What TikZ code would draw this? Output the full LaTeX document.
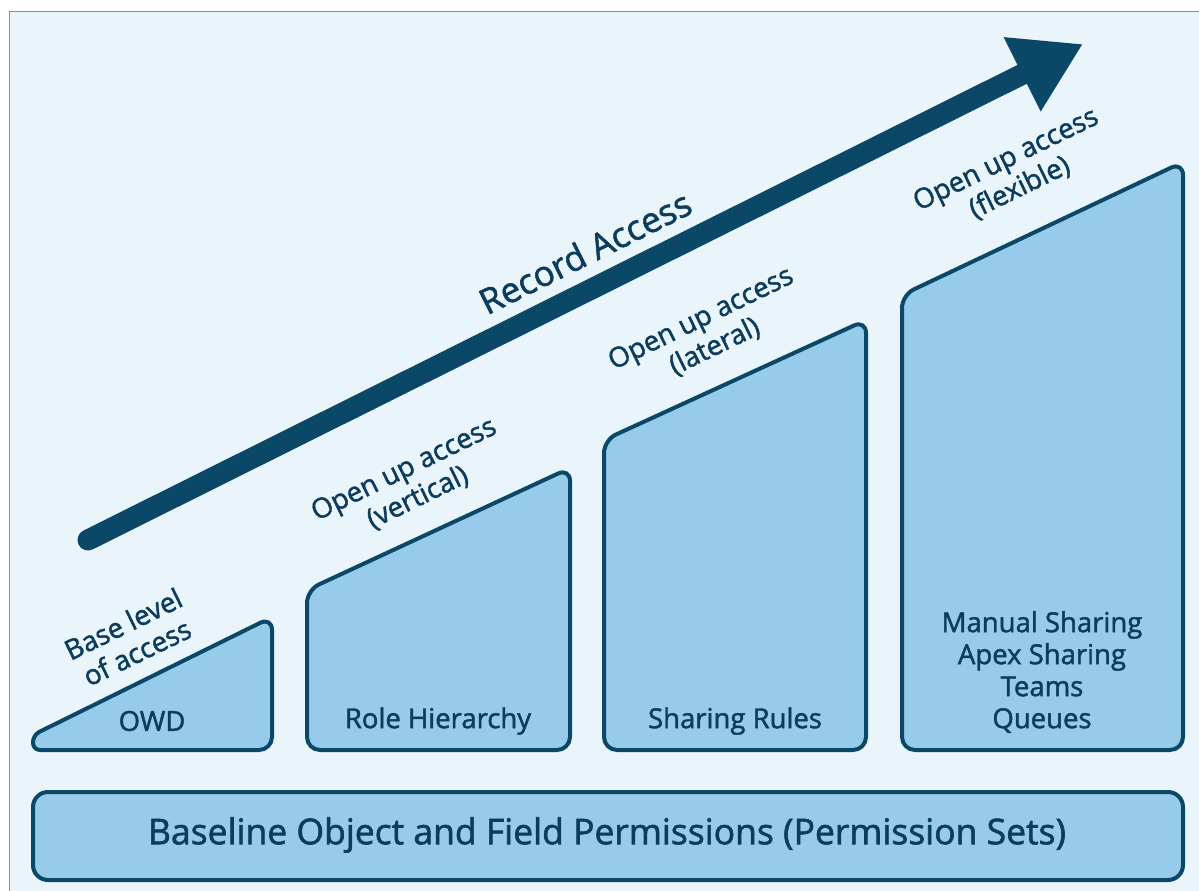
\documentclass[tikz,border=0pt]{standalone}
\usepackage{fontspec}
\setmainfont{Open Sans}
\newfontfamily\medfont{Open Sans}[FakeBold=1.6]
\usetikzlibrary{arrows.meta}
\definecolor{bgc}{RGB}{234,244,251}
\definecolor{fillc}{RGB}{151,203,236}
\definecolor{navy}{RGB}{11,71,102}
\definecolor{txtc}{RGB}{12,60,92}
\definecolor{framec}{RGB}{140,140,140}
\tikzset{
  stepshape/.style={draw=navy, fill=fillc, line width=4pt, rounded corners=13pt, line join=round},
  slantlabel/.style={text=txtc, font=\medfont\fontsize{27.5}{31.5}\selectfont, align=center, rotate=26, inner sep=0pt},
  boxlabel/.style={text=txtc, font=\medfont\fontsize{27.5}{32}\selectfont, align=center, inner sep=0pt},
}
\begin{document}
\begin{tikzpicture}[x=1pt,y=-1pt]
\useasboundingbox (0,0) rectangle (1199,891);
\fill[white] (0,0) rectangle (1199,891);
\fill[bgc] (9,11) rectangle (1199,891);
\draw[framec, line width=1.5pt] (9.5,891) -- (9.5,11.5) -- (1199,11.5);

% arrow
\coordinate (as) at (88,540);
\coordinate (tip) at (1083,44);
\draw[navy, line width=21pt, line cap=round, -{Triangle[length=68pt,width=78pt]}] (as) -- (tip);
\node[text=txtc, font=\medfont\fontsize{35}{38}\selectfont, rotate=26.5, inner sep=0pt] (rec) at (585,252) {Record Access};

% steps
\draw[stepshape] (150,750) [rounded corners=7pt] -- (33,750) -- (33,735) [rounded corners=13pt] -- (272,617) -- (272,750) -- cycle;
\draw[stepshape] (307,750) -- (307,590) -- (570,468) -- (570,750) -- cycle;
\draw[stepshape] (604,750) -- (604,440) -- (866,320) -- (866,750) -- cycle;
\draw[stepshape] (902,750) -- (902,295) -- (1183,162) -- (1183,750) -- cycle;
\draw[stepshape, rounded corners=15pt] (33,792) rectangle (1183,880);

% labels above steps
\node[slantlabel] (l1) at (130,638) {Base level\\of access};
\node[slantlabel] (l2) at (411,484) {Open up access\\(vertical)};
\node[slantlabel] (l3) at (708,333) {Open up access\\(lateral)};
\node[slantlabel] (l4) at (1013,174) {Open up access\\(flexible)};

% labels in steps
\node[boxlabel] (owd) at (152,721) {OWD};
\node[boxlabel] (role) at (438,721) {Role Hierarchy};
\node[boxlabel] (share) at (735,721) {Sharing Rules};
\node[boxlabel] (man) at (1042,672) {Manual Sharing\\Apex Sharing\\Teams\\Queues};
\node[text=txtc, font=\medfont\fontsize{35.5}{38}\selectfont, inner sep=0pt] (base) at (607,835) {Baseline Object and Field Permissions (Permission Sets)};
\end{tikzpicture}
\end{document}
